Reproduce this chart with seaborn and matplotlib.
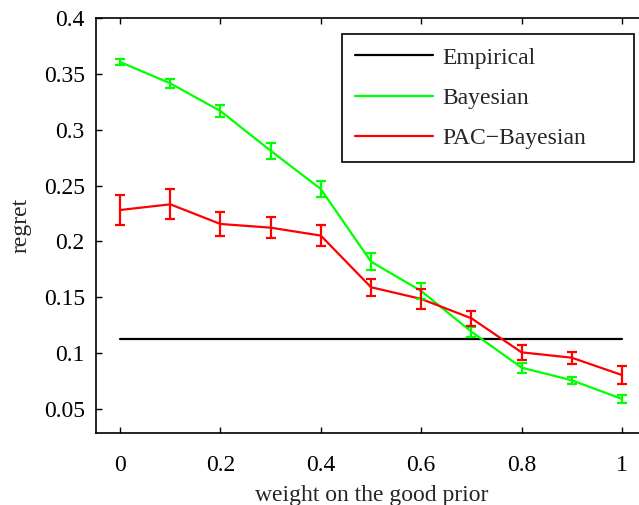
import matplotlib
matplotlib.use("Agg")
import matplotlib.pyplot as plt
from matplotlib.ticker import FormatStrFormatter
import pandas as pd
import seaborn as sns

# weight on the good prior
weights = [0.0, 0.1, 0.2, 0.3, 0.4, 0.5, 0.6, 0.7, 0.8, 0.9, 1.0]

empirical = 0.1124
bayes = [0.3606, 0.3415, 0.3167, 0.2812, 0.2469, 0.1819, 0.1556, 0.1192, 0.0870, 0.0757, 0.0590]
bayes_err = [0.0024, 0.0042, 0.0050, 0.0070, 0.0072, 0.0075, 0.0074, 0.0045, 0.0045, 0.0033, 0.0034]
pac = [0.2281, 0.2332, 0.2156, 0.2123, 0.2052, 0.1590, 0.1485, 0.1312, 0.1007, 0.0959, 0.0804]
pac_err = [0.0134, 0.0134, 0.0110, 0.0095, 0.0097, 0.0076, 0.0090, 0.0066, 0.0067, 0.0052, 0.0078]

labels = ["Empirical", "Bayesian", "PAC\u2212Bayesian"]
colors = {"Empirical": "black", "Bayesian": "#00ff00", "PAC\u2212Bayesian": "#ff0000"}

df = pd.concat([
    pd.DataFrame({"w": [weights[0], weights[-1]], "regret": [empirical, empirical], "method": labels[0]}),
    pd.DataFrame({"w": weights, "regret": bayes, "method": labels[1]}),
    pd.DataFrame({"w": weights, "regret": pac, "method": labels[2]}),
])

sns.set_style("ticks")
plt.rcParams["font.family"] = ["Liberation Serif", "DejaVu Serif"]

fig = plt.figure(figsize=(6.39, 5.05), dpi=100)
ax = fig.add_axes([0.1502, 0.1426, 0.8623, 0.8218])

sns.lineplot(data=df, x="w", y="regret", hue="method", hue_order=labels,
             palette=colors, linewidth=1.6, ax=ax)

ax.errorbar(weights, bayes, yerr=bayes_err, fmt="none", ecolor=colors["Bayesian"],
            elinewidth=1.6, capsize=3.6, capthick=1.6)
ax.errorbar(weights, pac, yerr=pac_err, fmt="none", ecolor=colors["PAC\u2212Bayesian"],
            elinewidth=1.6, capsize=3.6, capthick=1.6)

ax.set_xlim(-0.048, 1.05)
ax.set_ylim(0.0285, 0.4)
ax.set_xticks([0, 0.2, 0.4, 0.6, 0.8, 1])
ax.set_yticks([0.05, 0.1, 0.15, 0.2, 0.25, 0.3, 0.35, 0.4])
ax.xaxis.set_major_formatter(FormatStrFormatter("%g"))
ax.yaxis.set_major_formatter(FormatStrFormatter("%g"))
ax.tick_params(direction="in", length=4, width=1, top=True, right=True,
               labelsize=17, colors="black", pad=8)
ax.tick_params(axis="x", pad=16)
for s in ax.spines.values():
    s.set_visible(True)
    s.set_linewidth(1.2)
    s.set_color("black")

ax.set_xlabel("weight on the good prior", fontsize=17, labelpad=6)
ax.set_ylabel("regret", fontsize=17, labelpad=9)

# legend box as in the reference (wide, with empty room on the right)
leg = ax.legend(loc="upper left",
                bbox_to_anchor=(342 / 639, 1 - 163 / 505, 292 / 639, 129 / 505),
                bbox_transform=fig.transFigure, mode="expand", fontsize=17,
                frameon=True, fancybox=False, edgecolor="black", handlelength=3.3,
                labelspacing=0.8, borderpad=0.55, handletextpad=0.4, borderaxespad=0)
leg.get_frame().set_linewidth(1.2)
leg.get_frame().set_alpha(1)

fig.savefig("out.png", dpi=100)
